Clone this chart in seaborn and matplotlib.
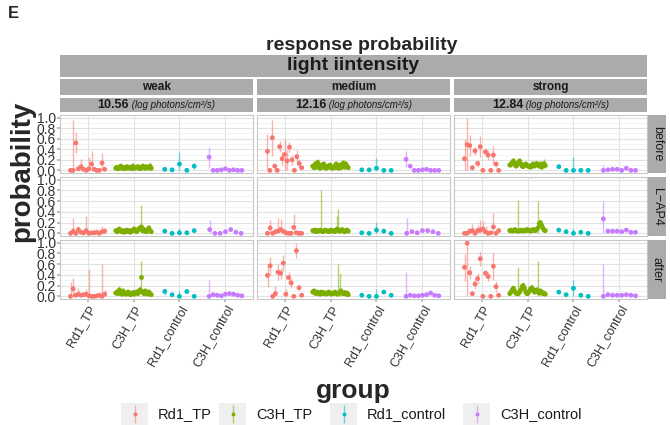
import numpy as np
import pandas as pd
import matplotlib
matplotlib.use("Agg")
import matplotlib.pyplot as plt
import seaborn as sns

groups = ["Rd1_TP", "C3H_TP", "Rd1_control", "C3H_control"]
colors = ["#F8766D", "#7CAE00", "#00BFC4", "#C77CFF"]
intensities = ["weak", "medium", "strong"]
log_photons = ["10.56", "12.16", "12.84"]
conditions = ["before", "L\u2212AP4", "after"]
yticks = [0.0, 0.2, 0.4, 0.6, 0.8, 1.0]
ytick_labels = ["0.0", "0.2", "0.4", "0.6", "0.8", "1.0"]

# panel order: weak before, weak L-AP4, weak after, medium before, ..., strong after
rd1_tp_mean = [
    [0.0, 0.0, 0.52, 0.03, 0.07, 0.02, 0.0, 0.03, 0.12, 0.02, 0.0, 0.0, 0.14, 0.02],
    [0.0, 0.04, 0.0, 0.07, 0.02, 0.01, 0.05, 0.0, 0.01, 0.01, 0.02, 0.0, 0.03, 0.04],
    [0.0, 0.14, 0.02, 0.04, 0.02, 0.03, 0.04, 0.01, 0.0, 0.0, 0.01, 0.02, 0.0, 0.04],
    [0.36, 0.0, 0.62, 0.08, 0.0, 0.45, 0.22, 0.3, 0.18, 0.44, 0.2, 0.0, 0.26, 0.13, 0.05],
    [0.0, 0.1, 0.0, 0.03, 0.04, 0.07, 0.04, 0.01, 0.0, 0.0, 0.11, 0.01, 0.0, 0.0],
    [0.39, 0.57, 0.0, 0.05, 0.45, 0.43, 0.62, 0.04, 0.35, 0.25, 0.0, 0.85, 0.16, 0.02],
    [0.22, 0.49, 0.47, 0.05, 0.37, 0.13, 0.45, 0.0, 0.35, 0.29, 0.0, 0.29, 0.12, 0.0],
    [0.0, 0.0, 0.04, 0.05, 0.0, 0.05, 0.06, 0.08, 0.03, 0.0, 0.01, 0.12, 0.0, 0.05],
    [0.54, 0.99, 0.44, 0.05, 0.23, 0.33, 0.7, 0.0, 0.43, 0.37, 0.0, 0.56, 0.18, 0.02],
]
rd1_tp_err = [
    [0.0, 0.95, 0.2, 0.03, 0.15, 0.02, 0.0, 0.22, 0.25, 0.02, 0.0, 0.0, 0.18, 0.03],
    [0.0, 0.24, 0.0, 0.06, 0.02, 0.01, 0.28, 0.0, 0.02, 0.06, 0.02, 0.0, 0.10, 0.05],
    [0.27, 0.2, 0.02, 0.12, 0.02, 0.03, 0.1, 0.5, 0.0, 0.0, 0.01, 0.02, 0.61, 0.08],
    [0.33, 0.0, 0.34, 0.04, 0.0, 0.1, 0.12, 0.3, 0.2, 0.1, 0.1, 0.0, 0.12, 0.08, 0.0],
    [0.0, 0.15, 0.0, 0.02, 0.25, 0.2, 0.03, 0.02, 0.0, 0.0, 0.25, 0.02, 0.0, 0.0],
    [0.21, 0.17, 0.0, 0.14, 0.15, 0.1, 0.15, 0.1, 0.1, 0.1, 0.0, 0.14, 0.05, 0.0],
    [0.37, 0.5, 0.2, 0.05, 0.08, 0.06, 0.2, 0.0, 0.08, 0.09, 0.0, 0.17, 0.05, 0.0],
    [0.0, 0.01, 0.03, 0.12, 0.0, 0.1, 0.18, 0.15, 0.1, 0.0, 0.01, 0.25, 0.0, 0.03],
    [0.25, 0.99, 0.12, 0.05, 0.1, 0.1, 0.14, 0.0, 0.07, 0.08, 0.0, 0.25, 0.1, 0.0],
]

c3h_tp_mean = [
    [0.04, 0.06, 0.03, 0.05, 0.08, 0.04, 0.06, 0.03, 0.05, 0.07, 0.04, 0.06, 0.05, 0.03, 0.08,
     0.05, 0.04, 0.06, 0.07, 0.05, 0.03, 0.06, 0.08, 0.05, 0.04, 0.07, 0.06, 0.05, 0.08, 0.04],
    [0.05, 0.03, 0.06, 0.08, 0.04, 0.03, 0.05, 0.02, 0.04, 0.06, 0.03, 0.05, 0.02, 0.04, 0.06,
     0.08, 0.05, 0.03, 0.06, 0.09, 0.1, 0.12, 0.05, 0.07, 0.04, 0.03, 0.06, 0.1, 0.05, 0.03],
    [0.06, 0.08, 0.05, 0.12, 0.07, 0.04, 0.1, 0.06, 0.04, 0.05, 0.08, 0.06, 0.03, 0.05, 0.07,
     0.04, 0.06, 0.08, 0.05, 0.1, 0.12, 0.35, 0.08, 0.05, 0.1, 0.06, 0.04, 0.08, 0.05, 0.03],
    [0.08, 0.05, 0.12, 0.06, 0.15, 0.08, 0.04, 0.1, 0.06, 0.12, 0.05, 0.04, 0.08, 0.06, 0.1,
     0.05, 0.04, 0.07, 0.05, 0.12, 0.06, 0.04, 0.1, 0.05, 0.08, 0.14, 0.06, 0.12, 0.08, 0.05],
    [0.05, 0.04, 0.06, 0.03, 0.05, 0.04, 0.06, 0.05, 0.03, 0.04, 0.06, 0.05, 0.04, 0.03, 0.05,
     0.06, 0.04, 0.05, 0.03, 0.06, 0.08, 0.06, 0.04, 0.05, 0.07, 0.04, 0.03, 0.05, 0.06, 0.04],
    [0.08, 0.1, 0.06, 0.05, 0.08, 0.06, 0.04, 0.08, 0.05, 0.07, 0.05, 0.04, 0.06, 0.08, 0.05,
     0.04, 0.06, 0.05, 0.08, 0.06, 0.04, 0.05, 0.08, 0.1, 0.06, 0.05, 0.07, 0.04, 0.06, 0.03],
    [0.1, 0.12, 0.15, 0.18, 0.12, 0.08, 0.1, 0.15, 0.18, 0.13, 0.08, 0.07, 0.1, 0.12, 0.1,
     0.08, 0.07, 0.06, 0.1, 0.12, 0.08, 0.1, 0.13, 0.1, 0.08, 0.12, 0.06, 0.1, 0.13, 0.09],
    [0.05, 0.06, 0.04, 0.05, 0.07, 0.05, 0.04, 0.05, 0.04, 0.06, 0.05, 0.04, 0.06, 0.05, 0.07,
     0.05, 0.06, 0.04, 0.05, 0.07, 0.06, 0.05, 0.08, 0.1, 0.18, 0.2, 0.15, 0.1, 0.06, 0.05],
    [0.05, 0.08, 0.12, 0.15, 0.1, 0.06, 0.05, 0.05, 0.08, 0.12, 0.18, 0.2, 0.15, 0.08, 0.05,
     0.06, 0.1, 0.14, 0.16, 0.12, 0.08, 0.1, 0.12, 0.08, 0.06, 0.1, 0.08, 0.05, 0.06, 0.04],
]
c3h_tp_err = [
    [0.03, 0.04, 0.02, 0.05, 0.06, 0.03, 0.04, 0.02, 0.05, 0.06, 0.03, 0.04, 0.05, 0.02, 0.06,
     0.04, 0.03, 0.05, 0.06, 0.04, 0.02, 0.05, 0.06, 0.04, 0.03, 0.06, 0.05, 0.04, 0.07, 0.03],
    [0.03, 0.02, 0.04, 0.05, 0.03, 0.02, 0.04, 0.02, 0.03, 0.04, 0.02, 0.03, 0.02, 0.03, 0.04,
     0.05, 0.03, 0.02, 0.04, 0.05, 0.06, 0.40, 0.04, 0.05, 0.03, 0.02, 0.04, 0.06, 0.04, 0.02],
    [0.04, 0.05, 0.03, 0.08, 0.05, 0.03, 0.06, 0.04, 0.03, 0.04, 0.05, 0.04, 0.02, 0.04, 0.05,
     0.03, 0.04, 0.05, 0.04, 0.06, 0.08, 0.30, 0.05, 0.04, 0.06, 0.04, 0.03, 0.05, 0.04, 0.02],
    [0.04, 0.03, 0.05, 0.04, 0.06, 0.05, 0.03, 0.05, 0.04, 0.05, 0.03, 0.03, 0.05, 0.04, 0.05,
     0.03, 0.03, 0.04, 0.03, 0.05, 0.04, 0.03, 0.05, 0.03, 0.04, 0.06, 0.04, 0.05, 0.04, 0.03],
    [0.03, 0.02, 0.04, 0.02, 0.03, 0.02, 0.04, 0.75, 0.02, 0.03, 0.04, 0.03, 0.02, 0.02, 0.03,
     0.04, 0.02, 0.03, 0.02, 0.04, 0.25, 0.40, 0.03, 0.03, 0.04, 0.02, 0.02, 0.03, 0.04, 0.02],
    [0.04, 0.05, 0.03, 0.03, 0.04, 0.03, 0.02, 0.04, 0.03, 0.04, 0.03, 0.02, 0.03, 0.04, 0.03,
     0.02, 0.03, 0.03, 0.04, 0.03, 0.02, 0.55, 0.35, 0.05, 0.03, 0.03, 0.04, 0.02, 0.03, 0.02],
    [0.04, 0.05, 0.06, 0.06, 0.05, 0.04, 0.04, 0.05, 0.06, 0.05, 0.04, 0.03, 0.04, 0.05, 0.04,
     0.03, 0.03, 0.03, 0.04, 0.05, 0.03, 0.04, 0.05, 0.04, 0.03, 0.05, 0.03, 0.04, 0.08, 0.04],
    [0.03, 0.03, 0.02, 0.03, 0.04, 0.03, 0.02, 0.57, 0.02, 0.03, 0.03, 0.02, 0.03, 0.03, 0.04,
     0.03, 0.03, 0.02, 0.03, 0.04, 0.03, 0.03, 0.04, 0.50, 0.06, 0.05, 0.05, 0.04, 0.03, 0.03],
    [0.03, 0.04, 0.05, 0.06, 0.05, 0.03, 0.03, 0.50, 0.04, 0.05, 0.06, 0.06, 0.05, 0.04, 0.03,
     0.03, 0.05, 0.06, 0.06, 0.05, 0.04, 0.05, 0.05, 0.57, 0.03, 0.05, 0.04, 0.03, 0.03, 0.02],
]

rd1_ctrl_mean = [
    [0.02, 0.01, 0.12, 0.0, 0.08],
    [0.04, 0.0, 0.01, 0.01, 0.05],
    [0.09, 0.03, 0.0, 0.09, 0.0],
    [0.01, 0.01, 0.04, 0.0, 0.0],
    [0.01, 0.0, 0.06, 0.04, 0.0],
    [0.02, 0.0, 0.0, 0.08, 0.02],
    [0.07, 0.0, 0.0, 0.0, 0.0],
    [0.06, 0.03, 0.0, 0.02, 0.0],
    [0.08, 0.03, 0.15, 0.02, 0.0],
]
rd1_ctrl_err = [
    [0.01, 0.01, 0.22, 0.0, 0.06],
    [0.02, 0.0, 0.09, 0.01, 0.03],
    [0.06, 0.02, 0.1, 0.03, 0.0],
    [0.01, 0.01, 0.2, 0.01, 0.0],
    [0.01, 0.0, 0.16, 0.02, 0.0],
    [0.01, 0.0, 0.14, 0.02, 0.01],
    [0.03, 0.0, 0.25, 0.0, 0.0],
    [0.02, 0.01, 0.1, 0.01, 0.0],
    [0.04, 0.01, 0.15, 0.01, 0.0],
]

c3h_ctrl_mean = [
    [0.25, 0.0, 0.0, 0.01, 0.03, 0.0, 0.01, 0.0, 0.0],
    [0.07, 0.0, 0.0, 0.03, 0.07, 0.02, 0.0],
    [0.0, 0.03, 0.02, 0.01, 0.04, 0.05, 0.04, 0.02, 0.01],
    [0.21, 0.08, 0.0, 0.0, 0.01, 0.02, 0.0, 0.0, 0.0],
    [0.0, 0.03, 0.01, 0.05, 0.05, 0.03, 0.0],
    [0.0, 0.02, 0.01, 0.01, 0.02, 0.03, 0.06, 0.02, 0.01],
    [0.0, 0.01, 0.02, 0.02, 0.0, 0.04, 0.0, 0.0],
    [0.27, 0.04, 0.04, 0.04, 0.03, 0.06, 0.02, 0.02],
    [0.0, 0.03, 0.02, 0.02, 0.02, 0.03, 0.02, 0.01],
]
c3h_ctrl_err = [
    [0.2, 0.0, 0.0, 0.0, 0.01, 0.0, 0.0, 0.0, 0.0],
    [0.18, 0.0, 0.0, 0.01, 0.02, 0.01, 0.0],
    [0.3, 0.01, 0.01, 0.0, 0.01, 0.01, 0.01, 0.01, 0.0],
    [0.15, 0.02, 0.0, 0.0, 0.0, 0.01, 0.0, 0.0, 0.0],
    [0.28, 0.01, 0.01, 0.01, 0.01, 0.01, 0.0],
    [0.45, 0.01, 0.01, 0.01, 0.01, 0.01, 0.02, 0.01, 0.0],
    [0.1, 0.0, 0.0, 0.0, 0.0, 0.01, 0.0, 0.0],
    [0.33, 0.01, 0.01, 0.01, 0.01, 0.01, 0.0, 0.0],
    [0.6, 0.01, 0.01, 0.01, 0.01, 0.01, 0.01, 0.0],
]

means = [rd1_tp_mean, c3h_tp_mean, rd1_ctrl_mean, c3h_ctrl_mean]
errs = [rd1_tp_err, c3h_tp_err, rd1_ctrl_err, c3h_ctrl_err]

sns.set_theme(style="white")
plt.rcParams["font.family"] = ["Liberation Sans", "DejaVu Sans"]

W, H = 670, 425
fig = plt.figure(figsize=(W / 100, H / 100), dpi=100)


def box(x0, y0, x1, y1):
    return [x0 / W, 1 - y1 / H, (x1 - x0) / W, (y1 - y0) / H]


strip_col = "#ABABAB"


def strip(x0, y0, x1, y1):
    sax = fig.add_axes(box(x0, y0, x1, y1))
    sax.set_facecolor(strip_col)
    sax.set_xticks([])
    sax.set_yticks([])
    for sp in sax.spines.values():
        sp.set_visible(False)
    sax.set_xlim(0, 1)
    sax.set_ylim(0, 1)
    return sax


col_x = [(60, 253), (257, 450), (454, 647)]
row_y = [(115, 173), (177, 236), (240, 299)]

for c in range(3):
    for r in range(3):
        k = c * 3 + r
        parts = []
        for g, name in enumerate(groups):
            m = np.array(means[g][k])
            e = np.array(errs[g][k])
            n = len(m)
            xs = g + 1 - 0.4 + (np.arange(n) + 0.5) * 0.8 / n
            parts.append(pd.DataFrame({"group": name, "x": xs, "p": m,
                                       "lo": np.clip(m - e, 0, 1),
                                       "hi": np.clip(m + e, 0, 1)}))
        df = pd.concat(parts, ignore_index=True)

        ax = fig.add_axes(box(col_x[c][0], row_y[r][0], col_x[c][1], row_y[r][1]))
        for g, name in enumerate(groups):
            d = df[df["group"] == name]
            ax.vlines(d["x"], d["lo"], d["hi"], color=colors[g], alpha=0.55, lw=1.0, zorder=2)
        sns.scatterplot(data=df, x="x", y="p", hue="group", hue_order=groups,
                        palette=colors, s=12, linewidth=0, legend=False, ax=ax, zorder=3)
        ax.set_xlim(0.4, 4.6)
        ax.set_ylim(-0.05, 1.05)
        ax.set_xticks([1, 2, 3, 4])
        ax.set_yticks(yticks)
        ax.set_yticks([0.1, 0.3, 0.5, 0.7, 0.9], minor=True)
        ax.grid(True, which="major", color="#E2E2E2", lw=0.8)
        ax.grid(True, which="minor", axis="y", color="#EEEEEE", lw=0.5)
        ax.set_axisbelow(True)
        for sp in ax.spines.values():
            sp.set_color("#C8C8C8")
            sp.set_linewidth(0.8)
        ax.set_xlabel("")
        ax.set_ylabel("")
        ax.tick_params(which="major", length=2, color="#B3B3B3", pad=1)
        ax.tick_params(which="minor", length=0)
        if c == 0:
            ax.set_yticklabels(ytick_labels, fontsize=10, color="#333333")
            ax.tick_params(axis="y", left=True)
        else:
            ax.set_yticklabels([])
        if r == 2:
            ax.set_xticklabels(groups, rotation=60, ha="right", rotation_mode="anchor",
                               fontsize=9, color="#333333")
            ax.tick_params(axis="x", bottom=True)
        else:
            ax.set_xticklabels([])

# row strips
for r in range(3):
    sax = strip(648, row_y[r][0], 666, row_y[r][1])
    sax.text(0.5, 0.5, conditions[r], rotation=270, ha="center", va="center",
             fontsize=9, color="#1A1A1A")

# top strips
sax = strip(60, 55, 647, 77)
sax.text(0.5, 0.5, "light iintensity", ha="center", va="center",
         fontsize=14, fontweight="bold", color="#1A1A1A")

renderer = fig.canvas.get_renderer()
for c in range(3):
    sax = strip(col_x[c][0], 79, col_x[c][1], 95)
    sax.text(0.5, 0.5, intensities[c], ha="center", va="center",
             fontsize=8.5, fontweight="bold", color="#1A1A1A")
    sax = strip(col_x[c][0], 98, col_x[c][1], 112)
    t1 = sax.text(0, 0.5, log_photons[c], ha="left", va="center",
                  fontsize=9, fontweight="bold", color="#1A1A1A")
    t2 = sax.text(0, 0.5, " (log photons/cm\u00b2/s)", ha="left", va="center",
                  fontsize=7, style="italic", color="#1A1A1A")
    w1 = t1.get_window_extent(renderer).width
    w2 = t2.get_window_extent(renderer).width
    aw = sax.get_window_extent(renderer).width
    start = (aw - w1 - w2) / 2 / aw
    t1.set_x(start)
    t2.set_x(start + w1 / aw)

# titles
fig.text(13 / W, 1 - 13 / H, "E", fontsize=12, fontweight="bold", ha="center", va="center")
fig.text(362 / W, 1 - 45 / H, "response probability", fontsize=14, fontweight="bold",
         ha="center", va="center")
fig.text(22 / W, 1 - 171 / H, "probability", fontsize=20, fontweight="bold",
         rotation=90, ha="center", va="center")
fig.text(353 / W, 1 - 391 / H, "group", fontsize=19, fontweight="bold",
         ha="center", va="center")

# legend
lax = fig.add_axes(box(100, 401, 620, 425))
lax.set_xlim(100, 620)
lax.set_ylim(425, 401)
lax.axis("off")
key_x = [121, 219, 330, 463]
for g, name in enumerate(groups):
    x0 = key_x[g]
    lax.add_patch(plt.Rectangle((x0, 403), 27, 22, color="#EFEFEF", lw=0))
    lax.vlines(x0 + 13.5, 405, 423, color=colors[g], alpha=0.55, lw=1.0)
    lax.scatter([x0 + 13.5], [414], s=8, color=colors[g], linewidth=0)
    lax.text(x0 + 37, 414, name, fontsize=10.5, va="center", ha="left", color="#1A1A1A")

fig.savefig("out.png", dpi=100)
